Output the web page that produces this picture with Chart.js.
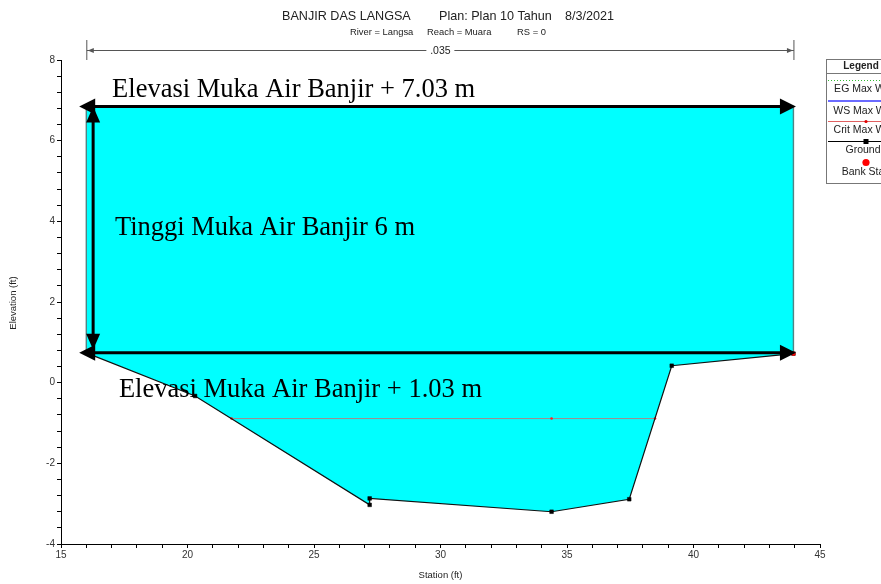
<!DOCTYPE html>
<html>
<head>
<meta charset="utf-8">
<script src="https://cdn.jsdelivr.net/npm/chart.js@4.4.0/dist/chart.umd.min.js"></script>
<style>
  html, body { margin: 0; padding: 0; background: #ffffff; }
  #wrap { width: 881px; height: 584px; position: relative; }
  canvas { display: block; }
</style>
</head>
<body>
<div id="wrap"><canvas id="xs" width="881" height="584"></canvas></div>
<script>
// ---- Cross-section data (station ft, elevation ft) ----
const groundStation = [16.0, 20.3, 27.2, 27.2, 34.39, 37.46, 39.14, 43.95];
const groundElev    = [0.74, -0.33, -3.03, -2.87, -3.20, -2.89, 0.42, 0.72];
const bankStation   = [16.0, 43.95];
const bankElev      = [0.74, 0.72];
const wsElev        = 0.74;          // WS Max WS
const critStation   = [21.74, 34.39, 38.48];
const critElev      = -0.89;         // Crit Max WS
const floodTopElev  = 6.85;          // top of the flood-level block
const arrowStations = [15.72, 44.05];
const heightArrowStation = 16.27;

// ---- Axes ----
const xRange = [15, 45];
const yRange = [-4, 8];
const xMajorStep = 5, xMinorStep = 1;
const yMajorStep = 2, yMinorStep = 0.4;

// ---- Texts ----
const titleParts = ['BANJIR DAS LANGSA', 'Plan: Plan 10 Tahun', '8/3/2021'];
const subtitleParts = ['River = Langsa', 'Reach = Muara', 'RS = 0'];
const manningN = '.035';
const legendNames = ['EG Max WS', 'WS Max WS', 'Crit Max WS', 'Ground', 'Bank Sta'];
const noteTexts = [
  'Elevasi Muka Air Banjir + 7.03 m',
  'Tinggi Muka Air Banjir 6 m',
  'Elevasi Muka Air Banjir + 1.03 m'
];

const pts = (xs, ys) => xs.map((x, i) => ({ x, y: Array.isArray(ys) ? ys[i] : ys }));

const groundPts = pts(groundStation, groundElev);
// water below the WS line: ground profile closed along the water surface
const waterPts = groundPts.concat([
  { x: bankStation[1], y: wsElev },
  { x: bankStation[0], y: wsElev }
]);
const floodBlockPts = [
  { x: bankStation[0], y: wsElev },
  { x: bankStation[0], y: floodTopElev },
  { x: bankStation[1], y: floodTopElev },
  { x: bankStation[1], y: wsElev }
];

const SANS = '"Liberation Sans", Arial, sans-serif';
const SERIF = '"Liberation Serif", "Times New Roman", serif';

function isMultiple(v, step) {
  return Math.abs(v / step - Math.round(v / step)) < 1e-6;
}

function arrowHead(ctx, tx, ty, dx, dy, len, half) {
  const bx = tx - dx * len, by = ty - dy * len;
  const px = -dy, py = dx;
  ctx.beginPath();
  ctx.moveTo(tx, ty);
  ctx.lineTo(bx + px * half, by + py * half);
  ctx.lineTo(bx - px * half, by - py * half);
  ctx.closePath();
  ctx.fill();
}

// Hand-drawn style notes: double arrows and labels on top of the plot
const notesPlugin = {
  id: 'notes',
  afterDatasetsDraw(chart) {
    const { ctx, scales: { x, y } } = chart;
    ctx.save();
    ctx.fillStyle = '#000';
    ctx.strokeStyle = '#000';
    ctx.lineWidth = 3;
    const L = 16, H = 8;
    [floodTopElev, wsElev].forEach(level => {
      const yy = y.getPixelForValue(level);
      const x0 = x.getPixelForValue(arrowStations[0]);
      const x1 = x.getPixelForValue(arrowStations[1]);
      ctx.beginPath();
      ctx.moveTo(x0 + L - 2, yy);
      ctx.lineTo(x1 - L + 2, yy);
      ctx.stroke();
      arrowHead(ctx, x0, yy, -1, 0, L, H);
      arrowHead(ctx, x1, yy, 1, 0, L, H);
    });
    const vx = x.getPixelForValue(heightArrowStation);
    const vy0 = y.getPixelForValue(floodTopElev);
    const vy1 = y.getPixelForValue(wsElev) - 3;
    ctx.beginPath();
    ctx.moveTo(vx, vy0 + L - 2);
    ctx.lineTo(vx, vy1 - L + 2);
    ctx.stroke();
    arrowHead(ctx, vx, vy0, 0, -1, L, 7);
    arrowHead(ctx, vx, vy1, 0, 1, L, 7);

    ctx.font = '26.5px ' + SERIF;
    ctx.textAlign = 'left';
    ctx.textBaseline = 'alphabetic';
    const anchors = [[17.02, 7.08], [17.13, 3.66], [17.29, -0.36]];
    noteTexts.forEach((t, i) => {
      ctx.fillText(t, x.getPixelForValue(anchors[i][0]), y.getPixelForValue(anchors[i][1]));
    });
    ctx.restore();
  }
};

// Titles, Manning's n bar, axis titles and the legend panel
const framePlugin = {
  id: 'frame',
  afterDraw(chart) {
    const { ctx, scales: { x, y }, chartArea } = chart;
    ctx.save();
    ctx.fillStyle = '#222';
    ctx.textBaseline = 'middle';
    ctx.textAlign = 'left';

    ctx.font = '12.6px ' + SANS;
    ctx.fillText(titleParts[0], 282, 16.5);
    ctx.fillText(titleParts[1], 439, 16.5);
    ctx.fillText(titleParts[2], 565, 16.5);
    ctx.font = '9.4px ' + SANS;
    ctx.fillText(subtitleParts[0], 350, 32);
    ctx.fillText(subtitleParts[1], 427, 32);
    ctx.fillText(subtitleParts[2], 517, 32);

    // Manning's n extent between bank stations
    const bx0 = x.getPixelForValue(bankStation[0]) + 0.5;
    const bx1 = x.getPixelForValue(bankStation[1]) + 0.5;
    const ny = 50.5;
    const mid = (bx0 + bx1) / 2;
    ctx.strokeStyle = '#555';
    ctx.fillStyle = '#555';
    ctx.lineWidth = 1;
    ctx.beginPath();
    ctx.moveTo(bx0, 40); ctx.lineTo(bx0, 60);
    ctx.moveTo(bx1, 40); ctx.lineTo(bx1, 60);
    ctx.moveTo(bx0, ny); ctx.lineTo(mid - 14, ny);
    ctx.moveTo(mid + 14, ny); ctx.lineTo(bx1, ny);
    ctx.stroke();
    arrowHead(ctx, bx0 + 1, ny, -1, 0, 6, 2.5);
    arrowHead(ctx, bx1 - 1, ny, 1, 0, 6, 2.5);
    ctx.fillStyle = '#222';
    ctx.font = '10.5px ' + SANS;
    ctx.textAlign = 'center';
    ctx.fillText(manningN, mid, ny + 0.5);

    // axis titles
    ctx.font = '9.5px ' + SANS;
    ctx.fillText('Station (ft)', (chartArea.left + chartArea.right) / 2, 575);
    ctx.save();
    ctx.translate(13, (chartArea.top + chartArea.bottom) / 2 + 1);
    ctx.rotate(-Math.PI / 2);
    ctx.fillText('Elevation (ft)', 0, 0);
    ctx.restore();

    // legend panel (runs past the right edge of the canvas)
    const lx = 826.5, ly = 59.5, lw = 80, lh = 124;
    const cx = 862;
    ctx.fillStyle = '#fff';
    ctx.fillRect(lx, ly, lw, lh);
    ctx.strokeStyle = '#777';
    ctx.lineWidth = 1;
    ctx.strokeRect(lx, ly, lw, lh);
    ctx.beginPath();
    ctx.moveTo(lx, 73.5); ctx.lineTo(lx + lw, 73.5);
    ctx.stroke();
    ctx.fillStyle = '#222';
    ctx.font = 'bold 10px ' + SANS;
    ctx.fillText('Legend', cx - 1, 66.5);

    const segX0 = 828, segX1 = 900;
    // EG
    ctx.strokeStyle = '#33bb33';
    ctx.setLineDash([1, 2]);
    ctx.beginPath(); ctx.moveTo(segX0, 80.5); ctx.lineTo(segX1, 80.5); ctx.stroke();
    ctx.setLineDash([]);
    // WS
    ctx.strokeStyle = '#6a6aff';
    ctx.lineWidth = 2;
    ctx.beginPath(); ctx.moveTo(segX0, 101); ctx.lineTo(segX1, 101); ctx.stroke();
    // Crit
    ctx.strokeStyle = '#e06060';
    ctx.lineWidth = 1;
    ctx.beginPath(); ctx.moveTo(segX0, 121.5); ctx.lineTo(segX1, 121.5); ctx.stroke();
    ctx.fillStyle = '#e00000';
    ctx.beginPath(); ctx.arc(866, 121.5, 1.6, 0, Math.PI * 2); ctx.fill();
    // Ground
    ctx.strokeStyle = '#000';
    ctx.beginPath(); ctx.moveTo(segX0, 141.5); ctx.lineTo(segX1, 141.5); ctx.stroke();
    ctx.fillStyle = '#000';
    ctx.fillRect(863.5, 139, 5, 5);
    // Bank station
    ctx.fillStyle = '#ff0000';
    ctx.beginPath(); ctx.arc(866, 162.5, 3.6, 0, Math.PI * 2); ctx.fill();

    ctx.fillStyle = '#222';
    ctx.font = '10.5px ' + SANS;
    const ty = [89.5, 111, 130.5, 150.5, 172];
    legendNames.forEach((n, i) => ctx.fillText(n, cx + 1, ty[i]));
    ctx.restore();
  }
};

new Chart(document.getElementById('xs'), {
  type: 'scatter',
  data: {
    datasets: [
      {
        label: 'Bank Sta',
        data: pts(bankStation, bankElev),
        showLine: false,
        pointRadius: 2.2,
        pointBackgroundColor: '#ff0000',
        pointBorderWidth: 0,
        order: 0
      },
      {
        label: 'Ground',
        data: groundPts,
        showLine: true,
        borderColor: '#111',
        borderWidth: 1.2,
        pointStyle: 'rect',
        pointRadius: 2.6,
        pointBackgroundColor: '#000',
        pointBorderColor: '#000',
        pointBorderWidth: 0.5,
        fill: false,
        order: 1
      },
      {
        label: 'Crit Max WS',
        data: pts(critStation, critElev),
        showLine: true,
        borderColor: '#a58a8a',
        borderWidth: 1,
        pointRadius: 1.3,
        pointBackgroundColor: '#ff2020',
        pointBorderWidth: 0,
        fill: false,
        order: 2
      },
      {
        label: 'WS Max WS',
        data: waterPts,
        showLine: true,
        borderWidth: 0,
        borderColor: 'rgba(0,0,0,0)',
        backgroundColor: '#00ffff',
        pointRadius: 0,
        fill: 'shape',
        order: 4
      },
      {
        label: 'Flood level',
        data: floodBlockPts,
        showLine: true,
        borderColor: '#4f8585',
        borderWidth: 1.4,
        backgroundColor: '#00ffff',
        pointRadius: 0,
        fill: 'shape',
        order: 5
      }
    ]
  },
  options: {
    responsive: false,
    animation: false,
    devicePixelRatio: 1,
    layout: { padding: { top: 60, right: 61, left: 0, bottom: 0 } },
    elements: { line: { tension: 0 } },
    plugins: {
      legend: { display: false },
      title: { display: false },
      tooltip: { enabled: false }
    },
    scales: {
      x: {
        type: 'linear',
        min: xRange[0],
        max: xRange[1],
        afterFit: s => { s.height = 40; },
        ticks: {
          stepSize: xMinorStep,
          autoSkip: false,
          maxRotation: 0,
          padding: 1,
          color: '#333',
          font: { family: SANS, size: 10 },
          callback: v => isMultiple(v, xMajorStep) ? String(Math.round(v)) : ''
        },
        grid: { display: true, drawOnChartArea: false, drawTicks: true, tickLength: 4, color: '#000' },
        border: { display: true, color: '#000', width: 1 }
      },
      y: {
        type: 'linear',
        min: yRange[0],
        max: yRange[1],
        afterFit: s => { s.width = 61; },
        ticks: {
          stepSize: yMinorStep,
          autoSkip: false,
          padding: 2,
          color: '#333',
          font: { family: SANS, size: 10 },
          callback: v => isMultiple(v, yMajorStep) ? String(Math.round(v)) : ''
        },
        grid: { display: true, drawOnChartArea: false, drawTicks: true, tickLength: 4, color: '#000' },
        border: { display: true, color: '#000', width: 1 }
      }
    }
  },
  plugins: [notesPlugin, framePlugin]
});
</script>
</body>
</html>
